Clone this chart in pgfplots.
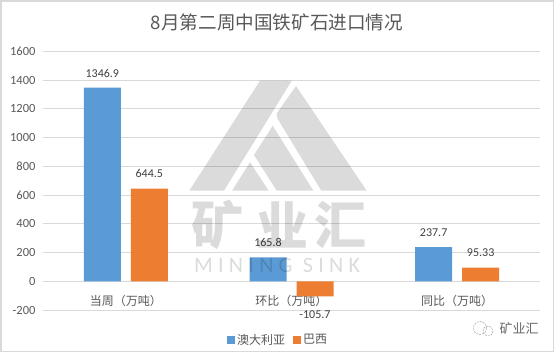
\documentclass[border=0pt]{standalone}
\usepackage{fontspec}
\setmainfont{Carlito}
\newfontfamily\cjk{Noto Sans CJK SC}
\usepackage{pgfplots}
\pgfplotsset{compat=1.18}
\definecolor{cblue}{HTML}{5B9BD5}
\definecolor{corange}{HTML}{ED7D31}
\definecolor{ctext}{HTML}{595959}
\definecolor{cgrid}{HTML}{D9D9D9}
\newcommand{\fs}[1]{\fontsize{#1}{#1}\selectfont}
\begin{document}
\begin{tikzpicture}[x=1pt,y=1pt]
\path[use as bounding box] (0,0) rectangle (555,353);
\fill[white] (0,0) rectangle (555,353);
\draw[cgrid,line width=1.2pt] (1,1.5) rectangle (553.5,352);
\begin{axis}[
  at={(43pt,43pt)},anchor=south west,
  scale only axis,width=497pt,height=258.7pt,
  xmin=-0.5,xmax=2.5,ymin=-200,ymax=1600,
  ybar=10pt,bar width=37pt,
  axis x line=middle,axis y line=left,
  axis line style={-,draw=cgrid,line width=0.8pt},
  y axis line style={draw=none},
  major tick length=0pt,
  xtick={0,1,2},
  xticklabels={当周（万吨）,环比（万吨）,同比（万吨）},
  x tick label style={font=\cjk\fs{12},text=ctext,yshift=-10pt},
  ytick={-200,0,200,400,600,800,1000,1200,1400,1600},
  y tick label style={font=\fs{12.5},text=ctext,xshift=-4pt},
  /pgf/number format/assume math mode=true,
  /pgf/number format/1000 sep={},
  ymajorgrids,grid style={cgrid,line width=0.8pt},
  visualization depends on={rawy \as \rawyval},
  nodes near coords,
  nodes near coords align={vertical},
  nodes near coords style={font=\fs{12},text=black!75,
    yshift={ifthenelse(\rawyval<0,-11,7)*1pt},
    /pgf/number format/fixed,/pgf/number format/precision=2,/pgf/number format/1000 sep={}},
  legend columns=2,
  legend style={at={(0.473,-0.116)},anchor=center,draw=none,fill=none,
    font=\cjk\fs{12},text=ctext,/tikz/every even column/.append style={column sep=6pt}},
  legend image code/.code={\fill[#1,draw=none] (0pt,-4pt) rectangle (8pt,4pt);},
]
\addplot[fill=cblue,draw=none] coordinates {(0,1346.9) (1,165.8) (2,237.7)};
\addplot[fill=corange,draw=none] coordinates {(0,644.5) (1,-105.7) (2,95.33)};
\legend{澳大利亚,巴西}
\end{axis}
\node[font=\cjk\fs{18.6},text=ctext] at (277,331) {8月第二周中国铁矿石进口情况};
% watermark
\begin{scope}[shift={(0,353)},y=-1pt]
\fill[black,opacity=.14] (189.3,190.7)--(260,80.7)--(291.7,80.7)--(224,190.7)--cycle;
\fill[black,opacity=.14] (296,86)--(366.7,190.7)--(321.3,190.7)--(277.3,118.3)--(276.7,113.5)--cycle;
\fill[black,opacity=.14] (272.7,125.7)--(313.3,190.7)--(276.7,190.7)--(254,155)--cycle;
\fill[black,opacity=.14] (250,162.3)--(268.7,190.7)--(232,190.7)--cycle;
\node[text opacity=.14,text=black,font=\cjk\bfseries\fs{52}] at (217,225) {矿};
\node[text opacity=.14,text=black,font=\cjk\bfseries\fs{52}] at (282,225) {业};
\node[text opacity=.14,text=black,font=\cjk\bfseries\fs{52}] at (340,225) {汇};
\node[text opacity=.14,text=black,font=\addfontfeatures{LetterSpace=24}\fs{22}] at (277,265.5) {MINING SINK};
% wechat signature
\draw[black!35,line width=.5pt,dash pattern=on 2pt off 1pt] (480,328) circle (6.5);
\draw[black!35,line width=.5pt,dash pattern=on 2pt off 1pt] (488,331) circle (5);
\node[font=\cjk\fs{13},text=black!60] at (519,329) {矿业汇};
\end{scope}
\end{tikzpicture}
\end{document}
